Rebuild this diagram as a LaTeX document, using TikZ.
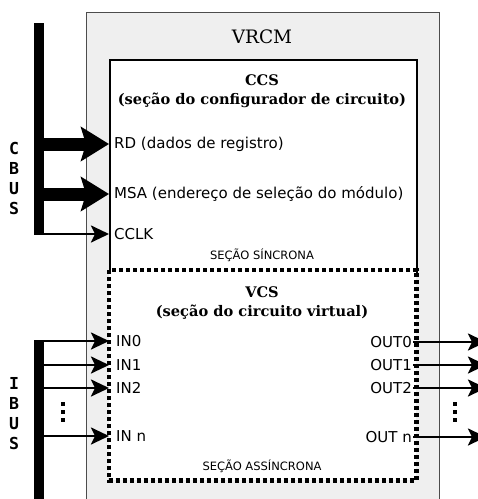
\documentclass[tikz,border=0pt]{standalone}
\usepackage{fontspec}
\setmainfont{DejaVu Serif}
\setsansfont{DejaVu Sans}
\setmonofont{DejaVu Sans Mono}
\usetikzlibrary{arrows.meta,positioning}

\definecolor{shade}{HTML}{EFEFEF}

\begin{document}
\begin{tikzpicture}[x=1pt,y=-1pt,
    bus/.style={fill=black,inner sep=0pt,minimum width=10pt},
    busname/.style={font=\ttfamily\bfseries\fontsize{16.5}{20}\selectfont,align=center,inner sep=0pt},
    sig/.style={font=\sffamily\fontsize{15}{17}\selectfont,inner sep=1pt},
    sect/.style={font=\sffamily\fontsize{11.5}{13}\selectfont,inner sep=0pt},
    title/.style={font=\bfseries\fontsize{14.6}{19}\selectfont,align=center,inner sep=0pt},
    fat/.style={line width=13pt,-{Stealth[length=28pt,width=34pt,inset=5pt]}},
    thin/.style={line width=2.6pt,-{Stealth[length=18pt,width=17pt,inset=4pt]}},
    vdots/.style={line width=4pt,dash pattern=on 4pt off 4pt}]
\useasboundingbox (0,0) rectangle (478,499);

% outer module
\node[draw=black!70,fill=shade,line width=0.8pt,minimum width=353pt,minimum height=520pt,anchor=north west,inner sep=0pt] (vrcm) at (86,12) {};
\node[font=\fontsize{18.5}{22}\selectfont] (vrcmname) at (262,37) {VRCM};

% configurator section
\node[draw,fill=white,line width=2pt,minimum width=307pt,minimum height=212pt,anchor=north west,inner sep=0pt] (ccs) at (109,59) {};
\node[title] (ccsname) at (262,91) {CCS\\(seção do configurador de circuito)};
\node[sig,anchor=west] (rd) at (113,144) {RD (dados de registro)};
\node[sig,anchor=west] (msa) at (113,194) {MSA (endereço de seleção do módulo)};
\node[sig,anchor=west] (cclk) at (113,234) {CCLK};
\node[sect] (sync) at (262,255) {SEÇÃO SÍNCRONA};

% virtual circuit section
\node[fill=white,minimum width=307pt,minimum height=210pt,anchor=north west,inner sep=0pt] (vcs) at (109,270) {};
\draw[line width=4.5pt,dash pattern=on 4pt off 3pt] (vcs.north west) rectangle (vcs.south east);
\node[title] (vcsname) at (262,303) {VCS\\(seção do circuito virtual)};
\node[sig,anchor=west] (in0) at (115,341) {IN0};
\node[sig,anchor=west] (in1) at (115,365) {IN1};
\node[sig,anchor=west] (in2) at (115,388) {IN2};
\node[sig,anchor=west] (inn) at (115,436) {IN n};
\node[sig,anchor=east] (out0) at (413,342) {OUT0};
\node[sig,anchor=east] (out1) at (413,365) {OUT1};
\node[sig,anchor=east] (out2) at (413,388) {OUT2};
\node[sig,anchor=east] (outn) at (413,437) {OUT n};
\node[sect] (async) at (262,466) {SEÇÃO ASSÍNCRONA};

% buses
\node[bus,minimum height=212pt,anchor=north] (cbus) at (39,23) {};
\node[bus,minimum height=170pt,anchor=north] (ibus) at (39,340) {};
\node[busname] (cbusname) at (14,178) {C\\B\\U\\S};
\node[busname] (ibusname) at (14,414) {I\\B\\U\\S};

\coordinate (cin) at (109,0);
\coordinate (oend) at (486,0);
\draw[fat] (cbus.center |- rd) -- (cin |- rd);
\draw[fat] (cbus.center |- msa) -- (cin |- msa);
\draw[thin] (cbus.center |- cclk) -- (cin |- cclk);
\foreach \s in {in0,in1,in2,inn}
  \draw[thin] (cbus.center |- \s) -- (cin |- \s);
\foreach \s in {out0,out1,out2,outn}
  \draw[thin] (\s.east) -- (oend |- \s);

\coordinate (dotsa) at (63,402);
\coordinate (dotsb) at (455,402);
\draw[vdots] (dotsa) -- ++(0,22);
\draw[vdots] (dotsb) -- ++(0,22);
\end{tikzpicture}
\end{document}
